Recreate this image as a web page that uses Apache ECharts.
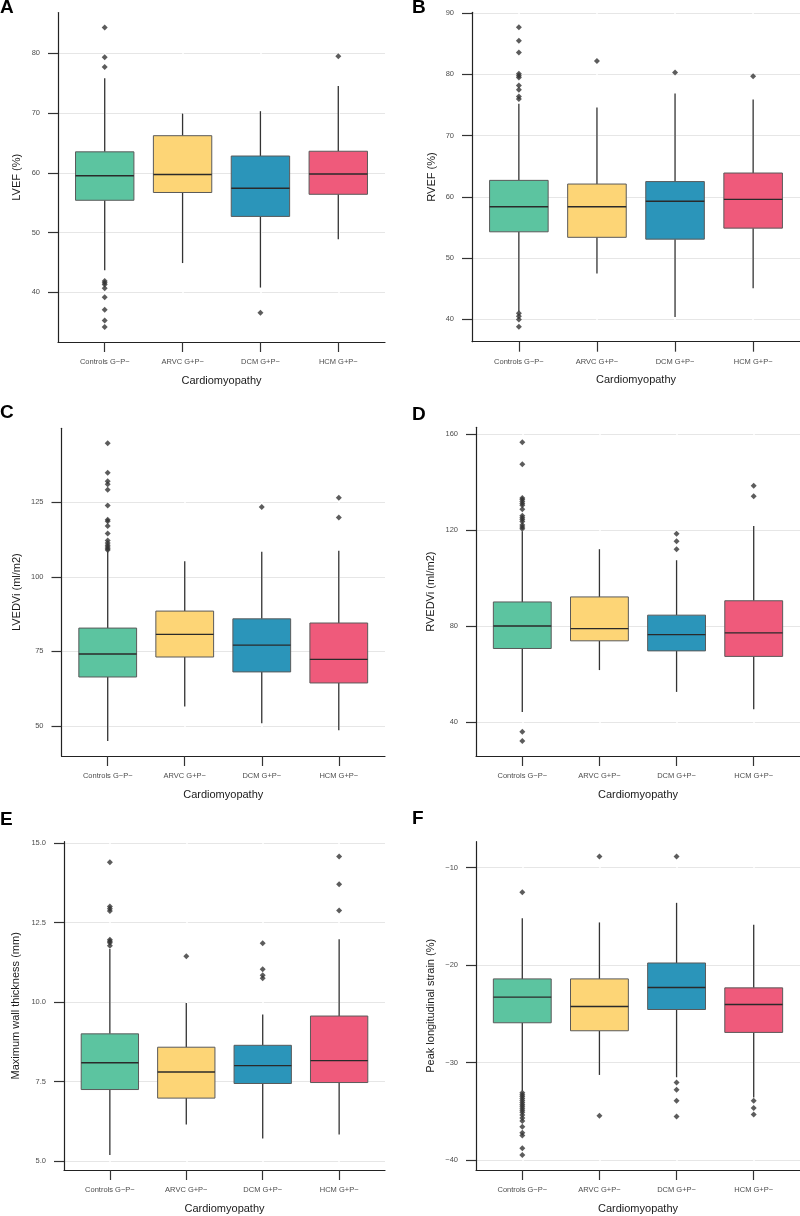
<!DOCTYPE html>
<html><head><meta charset="utf-8">
<script src="https://cdn.jsdelivr.net/npm/echarts@6/dist/echarts.min.js"></script>
<style>html,body{margin:0;padding:0;background:#fff}#c{width:800px;height:1216px}</style>
</head><body><div id="c"></div>
<script>
// ---- data ----
const categories = ['Controls G\u2212P\u2212', 'ARVC G+P\u2212', 'DCM G+P\u2212', 'HCM G+P\u2212'];
const xTitle = 'Cardiomyopathy';

// box stats per category: [lower whisker, Q1, median, Q3, upper whisker]
const lvefBoxes = [[43.7, 55.4, 59.5, 63.5, 75.8], [44.9, 56.7, 59.7, 66.2, 69.9], [40.8, 52.7, 57.4, 62.8, 70.3], [48.9, 56.4, 59.8, 63.6, 74.5]];
const lvefOutliers = [[84.3, 79.3, 77.7, 41.9, 41.6, 41.3, 40.7, 39.2, 37.1, 35.3, 34.2], [], [36.6], [79.5]];
const lvefTicks = [40, 50, 60, 70, 80];
const lvefTickLabels = ['40', '50', '60', '70', '80'];

const rvefBoxes = [[41.3, 54.3, 58.4, 62.7, 75.2], [47.5, 53.4, 58.4, 62.1, 74.6], [40.4, 53.1, 59.3, 62.5, 76.9], [45.1, 54.9, 59.6, 63.9, 75.9]];
const rvefOutliers = [[87.7, 85.5, 83.6, 80.1, 79.8, 79.5, 78.2, 77.5, 76.4, 76.0, 41.0, 40.5, 40.0, 38.8], [82.2], [80.3], [79.7]];
const rvefTicks = [40, 50, 60, 70, 80, 90];
const rvefTickLabels = ['40', '50', '60', '70', '80', '90'];

const lvedviBoxes = [[44.9, 66.4, 74.1, 82.8, 108.5], [56.5, 73.1, 80.7, 88.5, 105.2], [50.9, 68.1, 77.1, 85.9, 108.4], [48.5, 64.4, 72.3, 84.5, 108.7]];
const lvedviOutliers = [[144.8, 134.9, 132.0, 131.0, 129.2, 123.9, 119.1, 118.6, 117.0, 114.5, 112.2, 111.3, 110.6, 110.0, 109.4, 109.0], [], [123.4], [126.5, 119.9]];
const lvedviTicks = [50, 75, 100, 125];
const lvedviTickLabels = ['50', '75', '100', '125'];

const rvedviBoxes = [[44.2, 70.7, 80.1, 90.1, 119.6], [61.7, 73.9, 79.0, 92.2, 112.1], [52.6, 69.7, 76.5, 84.6, 107.5], [45.4, 67.4, 77.2, 90.6, 121.8]];
const rvedviOutliers = [[156.7, 147.5, 133.5, 132.8, 132.0, 131.2, 130.4, 128.8, 126.0, 125.2, 124.5, 123.6, 122.2, 121.4, 120.6, 36.0, 32.1], [], [118.5, 115.4, 112.1], [138.6, 134.2]];
const rvedviTicks = [40, 80, 120, 160];
const rvedviTickLabels = ['40', '80', '120', '160'];

const wallBoxes = [[5.19, 7.25, 8.09, 9.0, 11.67], [6.15, 6.98, 7.80, 8.58, 9.97], [5.71, 7.44, 8.0, 8.64, 9.61], [5.84, 7.47, 8.16, 9.56, 11.97]];
const wallOutliers = [[14.39, 13.0, 12.93, 12.86, 11.96, 11.91, 11.86, 11.77], [11.44], [11.85, 11.03, 10.84, 10.75], [14.57, 13.70, 12.88]];
const wallTicks = [5, 7.5, 10, 12.5, 15];
const wallTickLabels = ['5.0', '7.5', '10.0', '12.5', '15.0'];

const strainBoxes = [[-32.9, -25.93, -23.3, -21.43, -15.2], [-31.28, -26.75, -24.26, -21.43, -15.64], [-31.52, -24.57, -22.32, -19.8, -13.63], [-33.6, -26.92, -24.05, -22.35, -15.88]];
const strainOutliers = [[-12.54, -33.1, -33.3, -33.5, -33.7, -33.9, -34.1, -34.3, -34.5, -34.7, -34.9, -35.1, -35.4, -35.7, -36.0, -36.6, -37.2, -37.5, -38.8, -39.5], [-8.89, -35.47], [-8.89, -32.06, -32.81, -33.94, -35.54], [-33.94, -34.68, -35.33]];
const strainTicks = [-40, -30, -20, -10];
const strainTickLabels = ['\u221240', '\u221230', '\u221220', '\u221210'];

// ---- styling / layout ----
const boxColors = ['#5CC4A0', '#FDD576', '#2B95BA', '#EF5A7B'];
const FONT = '"Liberation Sans", Arial, Helvetica, sans-serif';

const panels = [
  {letter: 'A', title: 'LVEF (%)', boxes: lvefBoxes, outliers: lvefOutliers, ticks: lvefTicks, labels: lvefTickLabels,
   grid: {left: 58, top: 12.5, width: 327, height: 329.5}, nameGap: 36, lx: 0, ly: -2},
  {letter: 'B', title: 'RVEF (%)', boxes: rvefBoxes, outliers: rvefOutliers, ticks: rvefTicks, labels: rvefTickLabels,
   grid: {left: 472, top: 12.3, width: 328, height: 329.4}, nameGap: 35, lx: 412, ly: -1.5},
  {letter: 'C', title: 'LVEDVi (ml/m2)', boxes: lvedviBoxes, outliers: lvedviOutliers, ticks: lvedviTicks, labels: lvedviTickLabels,
   grid: {left: 61.5, top: 428.3, width: 323.5, height: 327.7}, nameGap: 39.5, lx: 0, ly: 403.5},
  {letter: 'D', title: 'RVEDVi (ml/m2)', boxes: rvedviBoxes, outliers: rvedviOutliers, ticks: rvedviTicks, labels: rvedviTickLabels,
   grid: {left: 476, top: 427.3, width: 324, height: 328.7}, nameGap: 40, lx: 412, ly: 405.5},
  {letter: 'E', title: 'Maximum wall thickness (mm)', boxes: wallBoxes, outliers: wallOutliers, ticks: wallTicks, labels: wallTickLabels,
   grid: {left: 64, top: 841.7, width: 321, height: 328.3}, nameGap: 43, lx: 0, ly: 810.5},
  {letter: 'F', title: 'Peak longitudinal strain (%)', boxes: strainBoxes, outliers: strainOutliers, ticks: strainTicks, labels: strainTickLabels,
   grid: {left: 476, top: 841.7, width: 324, height: 328.3}, nameGap: 40, lx: 412, ly: 809.5}
];

function extentOf(p) {
  let lo = Infinity, hi = -Infinity;
  p.boxes.forEach(b => b.forEach(v => { lo = Math.min(lo, v); hi = Math.max(hi, v); }));
  p.outliers.forEach(a => a.forEach(v => { lo = Math.min(lo, v); hi = Math.max(hi, v); }));
  const r = hi - lo;
  return [lo - 0.05 * r, hi + 0.05 * r];
}

function renderBox(params, api) {
  const x = api.value(0), lo = api.value(1), q1 = api.value(2), md = api.value(3), q3 = api.value(4), hi = api.value(5);
  const hw = 0.375;
  const tl = api.coord([x - hw, q3]);
  const br = api.coord([x + hw, q1]);
  const pm = api.coord([x, md]);
  const plo = api.coord([x, lo]);
  const phi = api.coord([x, hi]);
  const color = boxColors[Math.round(x) - 1];
  return {
    type: 'group',
    children: [
      {type: 'line', shape: {x1: phi[0], y1: phi[1], x2: phi[0], y2: tl[1]}, style: {stroke: '#333', lineWidth: 1.3}},
      {type: 'line', shape: {x1: plo[0], y1: plo[1], x2: plo[0], y2: br[1]}, style: {stroke: '#333', lineWidth: 1.3}},
      {type: 'rect', shape: {x: tl[0], y: tl[1], width: br[0] - tl[0], height: br[1] - tl[1]},
       style: {fill: color, stroke: '#5a5a5a', lineWidth: 1}},
      {type: 'line', shape: {x1: tl[0], y1: pm[1], x2: br[0], y2: pm[1]}, style: {stroke: '#2a2a2a', lineWidth: 1.4}}
    ]
  };
}

const grids = [], xAxes = [], yAxes = [], series = [], graphics = [];
panels.forEach((p, i) => {
  grids.push(Object.assign({containLabel: false}, p.grid));
  const ext = extentOf(p);
  xAxes.push({
    gridIndex: i, type: 'value', min: 0.4, max: 4.6, z: 1,
    name: xTitle, nameLocation: 'middle', nameGap: 33,
    nameTextStyle: {fontSize: 11, color: '#1a1a1a', fontFamily: FONT},
    axisLine: {show: true, onZero: false, lineStyle: {color: '#222', width: 1.2}},
    axisTick: {show: true, customValues: [1, 2, 3, 4], length: 10, lineStyle: {color: '#333', width: 1.2}},
    axisLabel: {show: true, customValues: [1, 2, 3, 4], formatter: v => categories[Math.round(v) - 1] || '',
      fontSize: 7.5, color: '#4d4d4d', margin: 16, fontFamily: FONT},
    splitLine: {show: true, lineStyle: {color: '#ffffff', width: 1.5}}
  });
  yAxes.push({
    gridIndex: i, type: 'value', min: ext[0], max: ext[1], z: 0,
    name: p.title, nameLocation: 'middle', nameGap: p.nameGap,
    nameTextStyle: {fontSize: 11, color: '#1a1a1a', fontFamily: FONT},
    axisLine: {show: true, onZero: false, lineStyle: {color: '#222', width: 1.2}},
    axisTick: {show: true, customValues: p.ticks, length: 10, lineStyle: {color: '#333', width: 1.2}},
    axisLabel: {show: true, customValues: p.ticks, fontSize: 7.5, color: '#4d4d4d', margin: 18, fontFamily: FONT,
      formatter: v => { const k = p.ticks.findIndex(t => Math.abs(t - v) < 1e-6); return k >= 0 ? p.labels[k] : ''; }},
    splitLine: {show: true, lineStyle: {color: '#e6e6e6', width: 1.2}}
  });
  series.push({
    type: 'custom', xAxisIndex: i, yAxisIndex: i, z: 2,
    renderItem: renderBox,
    encode: {x: 0, y: [1, 2, 3, 4, 5]},
    data: p.boxes.map((b, k) => [k + 1].concat(b))
  });
  const pts = [];
  p.outliers.forEach((arr, k) => arr.forEach(v => pts.push([k + 1, v])));
  series.push({
    type: 'scatter', xAxisIndex: i, yAxisIndex: i, z: 3,
    symbol: 'diamond', symbolSize: 6,
    itemStyle: {color: '#333333'},
    data: pts
  });
  graphics.push({type: 'text', x: p.lx, y: p.ly,
    style: {text: p.letter, font: 'bold 19px ' + FONT, fill: '#000', textVerticalAlign: 'top'}});
});

const chart = echarts.init(document.getElementById('c'), null, {renderer: 'canvas'});
chart.setOption({
  animation: false,
  backgroundColor: '#ffffff',
  grid: grids,
  xAxis: xAxes,
  yAxis: yAxes,
  series: series,
  graphic: graphics
});
</script>
</body></html>
